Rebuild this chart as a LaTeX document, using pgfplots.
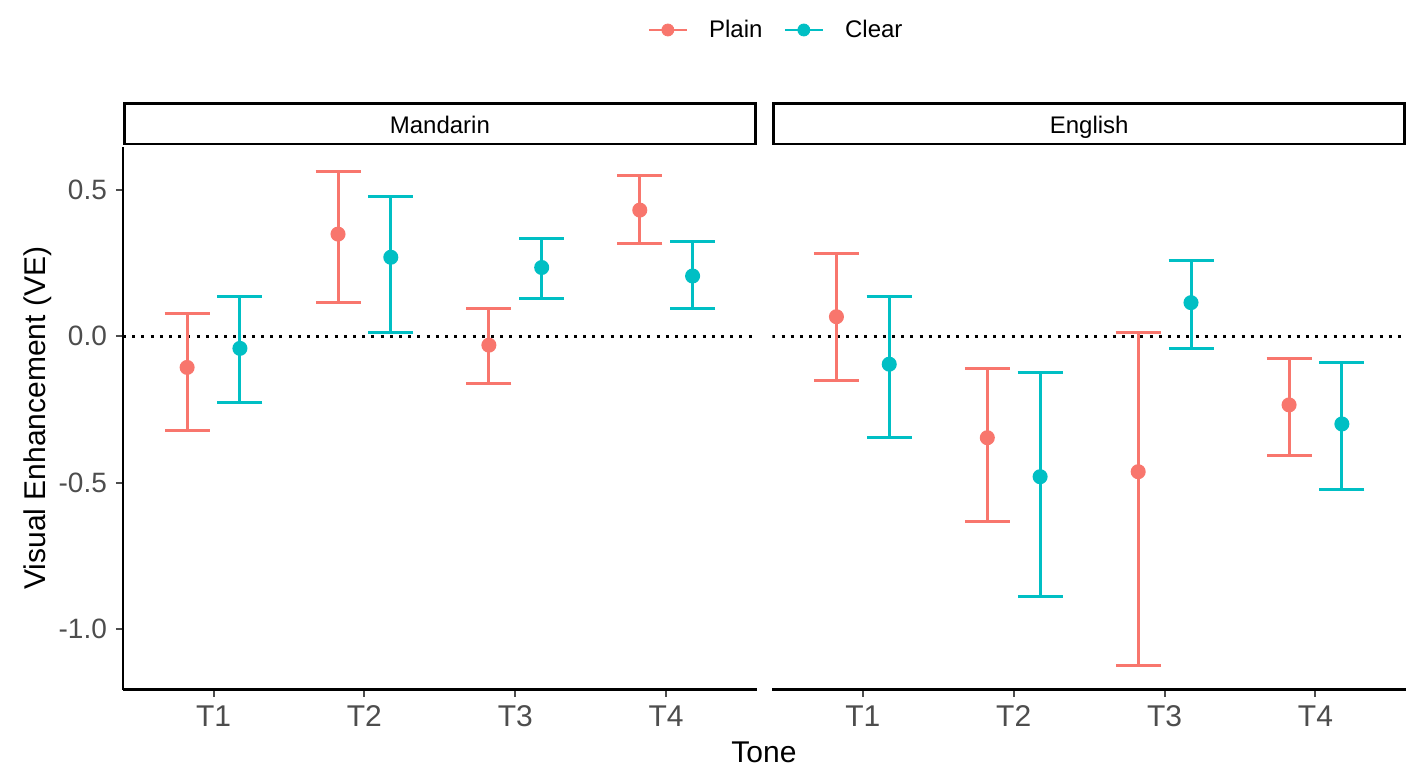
\documentclass[border=0pt]{standalone}
\usepackage{fontspec}
\setmainfont{Liberation Sans}
\usepackage{pgfplots}
\pgfplotsset{compat=1.18}
\definecolor{plain}{HTML}{F8766D}
\definecolor{clear}{HTML}{00BFC4}
\definecolor{gray30}{HTML}{4D4D4D}
\pgfplotsset{
  facet/.style={
    anchor=south west,
    width=316.85pt, height=271.6pt, scale only axis,
    xmin=0.4, xmax=4.6, ymin=-1.207, ymax=0.647,
    xtick={1,2,3,4}, xticklabels={T1,T2,T3,T4},
    axis x line*=bottom,
    x axis line style={-, line width=1.3pt, black},
    tick align=outside, major tick length=3.5pt,
    tick style={gray30, line width=1pt},
    xticklabel style={font=\fontsize{15}{18}\selectfont, text=gray30, inner sep=0pt, anchor=north, yshift=-4.3pt},
    title style={at={(axis description cs:0.5,1)}, anchor=south, draw=black, line width=1.3pt,
      minimum width=315.55pt, minimum height=20.35pt, inner sep=0pt, yshift=-5.4pt,
      text height=11pt, text depth=1pt,
      font=\fontsize{12}{14}\selectfont, text=black},
  },
  ebar/.style={only marks, mark=*, mark size=3pt, mark options={draw=none, fill=#1},
    color=#1, line width=1.5pt,
    /pgfplots/error bars/y dir=both, /pgfplots/error bars/y explicit,
    /pgfplots/error bars/error bar style={line width=1.5pt, #1},
    /pgfplots/error bars/error mark options={rotate=90, line width=1.5pt, mark size=11.25pt, #1}},
  zeroline/.style={black, line width=1.5pt, dash pattern=on 1.5pt off 3.1pt, forget plot},
}
\begin{document}
\begin{tikzpicture}
\useasboundingbox (0,0) rectangle (708.5pt,386.5pt);
% Mandarin
\begin{axis}[facet, at={(61.5pt,41.65pt)},
  title={Mandarin},
  axis y line*=left,
  y axis line style={-, line width=1.3pt, black},
  ytick={-1,-0.5,0,0.5}, yticklabels={-1.0,-0.5,0.0,0.5},
  yticklabel style={font=\fontsize{14}{17}\selectfont, text=gray30, inner sep=0pt, anchor=east, xshift=-4.35pt},
  ylabel={Visual Enhancement (VE)},
  ylabel style={at={(axis description cs:-0.134,0.5)}, rotate=0, anchor=center, font=\fontsize{15}{18}\selectfont, text=black},
  xlabel={Tone},
  xlabel style={at={(axis description cs:1.0115,-0.1338)}, anchor=base, font=\fontsize{15}{18}\selectfont, text=black},
  legend columns=2,
  legend style={at={(axis description cs:1.0289,1.2145)}, anchor=center, draw=none, fill=none,
    font=\fontsize{12}{14}\selectfont, inner sep=0pt,
    nodes={inner sep=0pt},
    /tikz/every odd column/.append style={column sep=10.5pt},
    /tikz/every even column/.append style={column sep=10.5pt}},
]
\addplot[zeroline] coordinates {(0.4,0) (4.6,0)};
\addplot[ebar=plain, forget plot] coordinates {
  (0.825,-0.107) += (0,0.184) -= (0,0.214)
  (1.825,0.348) += (0,0.213) -= (0,0.234)
  (2.825,-0.031) += (0,0.125) -= (0,0.130)
  (3.825,0.430) += (0,0.117) -= (0,0.114)
};
\addplot[ebar=clear, forget plot] coordinates {
  (1.175,-0.042) += (0,0.176) -= (0,0.186)
  (2.175,0.269) += (0,0.206) -= (0,0.256)
  (3.175,0.234) += (0,0.099) -= (0,0.105)
  (4.175,0.205) += (0,0.117) -= (0,0.111)
};
\addlegendimage{legend image code/.code={\draw[plain, line width=1.3pt] (0pt,0pt) -- (19pt,0pt); \fill[plain] (9.5pt,0pt) circle (3pt);}}
\addlegendentry{Plain}
\addlegendimage{legend image code/.code={\draw[clear, line width=1.3pt] (0pt,0pt) -- (19pt,0pt); \fill[clear] (9.5pt,0pt) circle (3pt);}}
\addlegendentry{Clear}
\end{axis}
% English
\begin{axis}[facet, at={(386.15pt,41.65pt)},
  title={English},
  axis y line=none, ytick=\empty,
]
\addplot[zeroline] coordinates {(0.4,0) (4.6,0)};
\addplot[ebar=plain] coordinates {
  (0.825,0.066) += (0,0.216) -= (0,0.219)
  (1.825,-0.347) += (0,0.235) -= (0,0.287)
  (2.825,-0.463) += (0,0.474) -= (0,0.660)
  (3.825,-0.235) += (0,0.157) -= (0,0.171)
};
\addplot[ebar=clear] coordinates {
  (1.175,-0.096) += (0,0.230) -= (0,0.250)
  (2.175,-0.480) += (0,0.355) -= (0,0.410)
  (3.175,0.114) += (0,0.145) -= (0,0.156)
  (4.175,-0.300) += (0,0.210) -= (0,0.223)
};
\end{axis}
\end{tikzpicture}
\end{document}
